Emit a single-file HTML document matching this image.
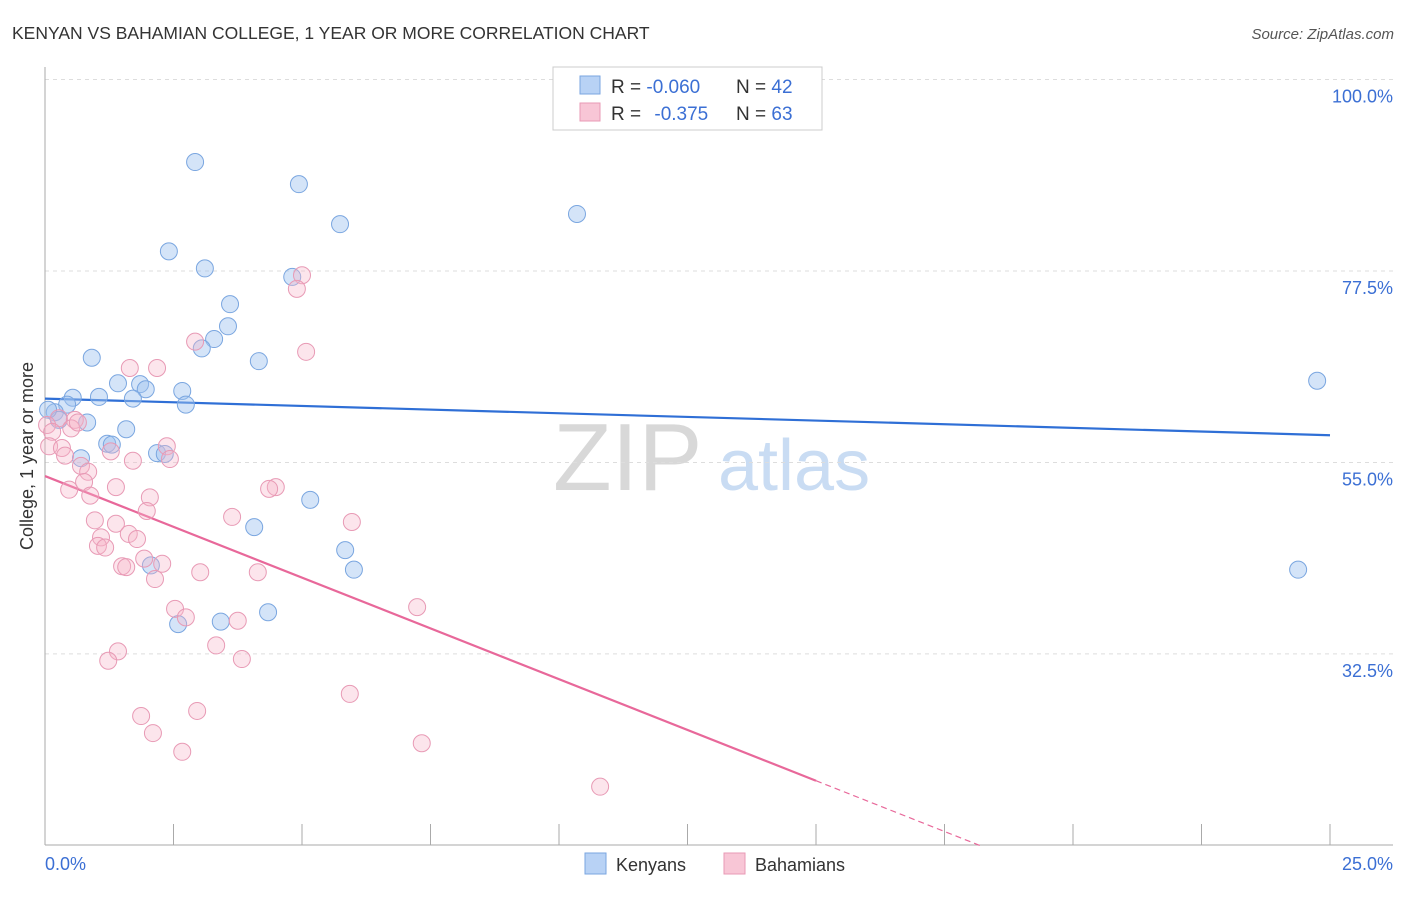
<!DOCTYPE html>
<html><head><meta charset="utf-8"><style>
body{margin:0;background:#fff;font-family:"Liberation Sans",sans-serif;}
svg text{font-family:"Liberation Sans",sans-serif;}
</style></head><body>
<svg id="chart" width="1406" height="892" viewBox="0 0 1406 892" xmlns="http://www.w3.org/2000/svg">
<text x="12" y="39" font-size="17.5" fill="#333">KENYAN VS BAHAMIAN COLLEGE, 1 YEAR OR MORE CORRELATION CHART</text>
<text x="1394" y="39" font-size="15" fill="#555" font-style="italic" text-anchor="end">Source: ZipAtlas.com</text>
<text transform="translate(33,456) rotate(-90)" font-size="18" fill="#333" text-anchor="middle">College, 1 year or more</text>
<g>
<text x="553" y="490" font-size="96" fill="#d8d8d8" font-family="Liberation Serif,serif">ZIP</text>
<text x="718" y="490" font-size="72" fill="#c9dcf3">atlas</text>
</g>
<g id="grid"></g>
<g id="axes"></g>
<g id="lines"></g>
<g id="points"></g>
<g>
<rect x="553" y="67" width="269" height="63" fill="#fff" stroke="#ccc"/>
<rect x="580" y="76" width="20" height="18" fill="#b8d2f5" stroke="#7aa6e0"/>
<rect x="580" y="103" width="20" height="18" fill="#f8c6d6" stroke="#e89ab5"/>
<text x="611" y="93" font-size="19" fill="#333">R = <tspan fill="#3b6fd4">-0.060</tspan></text>
<text x="736" y="93" font-size="19" fill="#333">N = <tspan fill="#3b6fd4">42</tspan></text>
<text x="611" y="120" font-size="19" fill="#333">R = <tspan fill="#3b6fd4" dx="8">-0.375</tspan></text>
<text x="736" y="120" font-size="19" fill="#333">N = <tspan fill="#3b6fd4">63</tspan></text>
</g>
<g>
<rect x="585" y="853" width="21" height="21" fill="#b8d2f5" stroke="#7aa6e0"/>
<text x="616" y="871" font-size="18" fill="#333">Kenyans</text>
<rect x="724" y="853" width="21" height="21" fill="#f8c6d6" stroke="#e89ab5"/>
<text x="755" y="871" font-size="18" fill="#333">Bahamians</text>
</g>
</svg>
<script>
const yTicks=[100,77.5,55,32.5];
const yTickLabels=["100.0%","77.5%","55.0%","32.5%"];
const xTickLabels=["0.0%","25.0%"];
const kenX=[2.92,4.94,10.35,5.74,2.41,3.11,4.81,3.60,3.56,3.29,3.05,0.91,4.16,24.75,1.42,1.85,1.96,2.67,0.54,1.05,1.71,2.74,0.43,0.19,0.27,0.82,1.58,1.21,1.30,2.18,2.33,0.70,5.16,4.07,5.84,6.01,24.38,2.06,4.34,3.42,2.59,0.06];
const kenY=[90.3,87.7,84.2,83.0,79.8,77.8,76.8,73.6,71.0,69.5,68.4,67.3,66.9,64.6,64.3,64.2,63.6,63.4,62.6,62.7,62.5,61.8,61.8,60.9,60.0,59.7,58.9,57.2,57.1,56.1,56.0,55.5,50.6,47.4,44.7,42.4,42.4,42.9,37.4,36.3,36.0,61.2];
const bahX=[5.0,4.9,2.92,5.08,1.65,2.18,0.27,0.58,0.04,0.14,0.51,0.64,0.08,0.33,0.39,1.28,1.71,2.37,2.43,0.70,0.84,0.76,0.88,0.47,1.38,2.04,4.49,4.36,1.98,0.97,3.64,5.97,1.38,1.09,1.63,1.03,1.17,1.79,1.93,1.50,1.58,2.28,2.14,3.02,4.14,2.53,2.74,3.75,7.24,1.42,3.33,3.83,1.23,5.93,1.87,2.96,2.10,2.67,7.33,10.80];
const bahY=[77.0,75.4,69.2,68.0,66.1,66.1,60.2,60.0,59.4,58.6,59.0,59.7,56.9,56.7,55.8,56.3,55.2,56.9,55.4,54.6,53.9,52.7,51.1,51.8,52.1,50.9,52.1,51.9,49.3,48.2,48.6,48.0,47.8,46.2,46.6,45.2,45.0,46.0,43.7,42.8,42.7,43.1,41.3,42.1,42.1,37.8,36.8,36.4,38.0,32.8,33.5,31.9,31.7,27.8,25.2,25.8,23.2,21.0,22.0,16.9];
const kenTrend=[62.5,58.2];
const bahTrend=[53.4,17.6];
const bahSolidEnd=15;
const NS="http://www.w3.org/2000/svg";
const X=v=>45+v*51.4;
const Y=v=>79.5+(100-v)*8.51;
function mk(tag,attrs,parent){const e=document.createElementNS(NS,tag);for(const k in attrs)e.setAttribute(k,attrs[k]);document.getElementById(parent).appendChild(e);return e;}
yTicks.forEach((t,i)=>{
 const l=mk('line',{x1:45,x2:1393,y1:Y(t),y2:Y(t),stroke:'#ddd','stroke-dasharray':'4,4'},'grid');
 
 
 const tx=mk('text',{x:1393,y:Y(t)+23,'font-size':18,fill:'#3b6fd4','text-anchor':'end'},'grid');
 tx.textContent=yTickLabels[i];
 
 
});
let a=mk('line',{x1:45,x2:45,y1:67,y2:845,stroke:'#aaa'},'axes');


a=mk('line',{x1:45,x2:1393,y1:845,y2:845,stroke:'#aaa'},'axes');


for(let i=0;i<=10;i++){
 const t=mk('line',{x1:X(i*2.5),x2:X(i*2.5),y1:824,y2:845,stroke:'#aaa'},'axes');
 
 
}
[[0,'start',45],[25,'end',1393]].forEach((d,i)=>{
 const t=mk('text',{x:d[2],y:870,'font-size':18,fill:'#3b6fd4','text-anchor':d[1]},'axes');
 t.textContent=xTickLabels[i];
 
 
});
kenX.forEach((x,i)=>{
 const c=mk('circle',{cx:X(x),cy:Y(kenY[i]),r:8.5,fill:'rgba(160,195,240,0.45)',stroke:'#7aa6e0','stroke-width':1},'points');
 
 
});
bahX.forEach((x,i)=>{
 const c=mk('circle',{cx:X(x),cy:Y(bahY[i]),r:8.5,fill:'rgba(245,180,200,0.35)',stroke:'#e89ab5','stroke-width':1},'points');
 
 
});
let ln=mk('line',{x1:X(0),y1:Y(kenTrend[0]),x2:X(25),y2:Y(kenTrend[1]),stroke:'#2f6fd6','stroke-width':2.2},'lines');


const slope=(bahTrend[1]-bahTrend[0])/bahSolidEnd;
ln=mk('line',{x1:X(0),y1:Y(bahTrend[0]),x2:X(bahSolidEnd),y2:Y(bahTrend[1]),stroke:'#e8689a','stroke-width':2.2},'lines');


const xEnd=(10-bahTrend[0])/slope;
ln=mk('line',{x1:X(bahSolidEnd),y1:Y(bahTrend[1]),x2:X(xEnd),y2:Y(10),stroke:'#e8689a','stroke-width':1.2,'stroke-dasharray':'6,4'},'lines');


</script>
</body></html>
